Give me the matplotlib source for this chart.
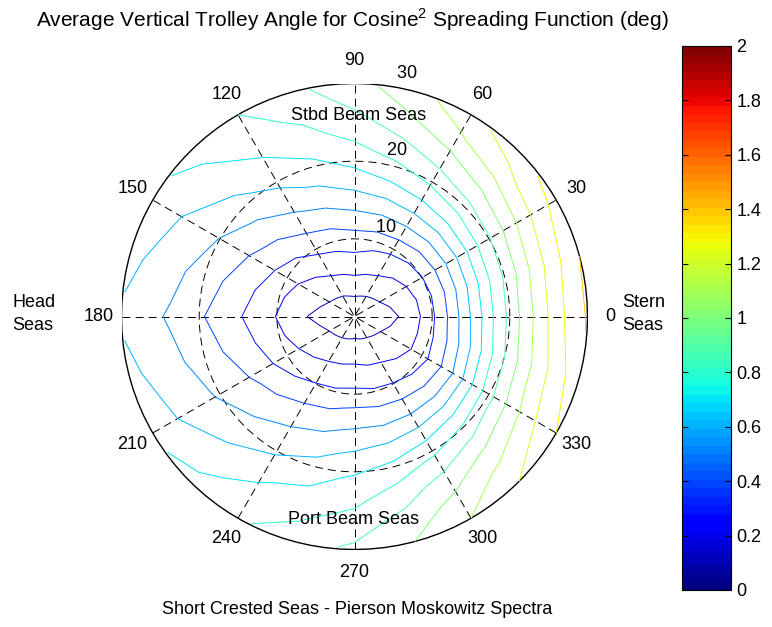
import numpy as np
import matplotlib
matplotlib.use("Agg")
import matplotlib.pyplot as plt
from matplotlib.colors import Normalize
from matplotlib.cm import ScalarMappable

plt.rcParams['font.family'] = ['Liberation Sans', 'DejaVu Sans']
plt.rcParams['mathtext.fontset'] = 'custom'
plt.rcParams['mathtext.rm'] = 'Liberation Sans'
plt.rcParams['lines.scale_dashes'] = False

# Wave heading (deg, 0 = stern seas) and wave period (s) grid
headings = np.arange(0, 360, 15)
periods = np.array([3, 6, 9, 12, 15, 18, 21, 24, 27, 30])
center_val = 0.05

# Average vertical trolley angle (deg), one row per heading, columns = periods
angle_table = [
    [0.075, 0.103, 0.220, 0.402, 0.605, 0.807, 0.986, 1.156, 1.298, 1.41],   # 0
    [0.080, 0.115, 0.228, 0.400, 0.600, 0.800, 0.970, 1.140, 1.280, 1.40],   # 15
    [0.085, 0.145, 0.241, 0.402, 0.588, 0.783, 0.944, 1.096, 1.239, 1.34],   # 30
    [0.092, 0.170, 0.262, 0.410, 0.585, 0.760, 0.905, 1.040, 1.170, 1.26],   # 45
    [0.100, 0.198, 0.288, 0.428, 0.583, 0.734, 0.864, 0.975, 1.089, 1.16],   # 60
    [0.105, 0.214, 0.307, 0.430, 0.568, 0.700, 0.810, 0.905, 0.995, 1.06],   # 75
    [0.108, 0.228, 0.324, 0.433, 0.554, 0.664, 0.758, 0.839, 0.908, 0.96],   # 90
    [0.105, 0.214, 0.310, 0.410, 0.520, 0.620, 0.700, 0.770, 0.830, 0.88],   # 105
    [0.099, 0.198, 0.292, 0.388, 0.485, 0.573, 0.645, 0.707, 0.754, 0.80],   # 120
    [0.092, 0.170, 0.250, 0.340, 0.430, 0.510, 0.580, 0.640, 0.690, 0.73],   # 135
    [0.086, 0.143, 0.215, 0.304, 0.384, 0.455, 0.518, 0.571, 0.622, 0.67],   # 150
    [0.080, 0.117, 0.190, 0.270, 0.343, 0.410, 0.470, 0.530, 0.580, 0.63],   # 165
    [0.075, 0.099, 0.172, 0.243, 0.311, 0.374, 0.433, 0.490, 0.536, 0.58],   # 180
    [0.080, 0.118, 0.192, 0.270, 0.345, 0.410, 0.470, 0.525, 0.575, 0.63],   # 195
    [0.085, 0.146, 0.217, 0.297, 0.386, 0.450, 0.505, 0.557, 0.613, 0.68],   # 210
    [0.090, 0.163, 0.243, 0.335, 0.425, 0.495, 0.560, 0.620, 0.675, 0.73],   # 225
    [0.095, 0.180, 0.269, 0.372, 0.465, 0.541, 0.610, 0.688, 0.739, 0.785],  # 240
    [0.100, 0.190, 0.280, 0.390, 0.490, 0.580, 0.660, 0.735, 0.795, 0.85],   # 255
    [0.103, 0.196, 0.291, 0.410, 0.520, 0.622, 0.718, 0.782, 0.853, 0.92],   # 270
    [0.100, 0.185, 0.275, 0.400, 0.520, 0.650, 0.765, 0.860, 0.940, 1.00],   # 285
    [0.096, 0.177, 0.263, 0.388, 0.523, 0.679, 0.817, 0.938, 1.030, 1.10],   # 300
    [0.090, 0.155, 0.237, 0.365, 0.523, 0.705, 0.870, 1.010, 1.120, 1.20],   # 315
    [0.084, 0.138, 0.215, 0.348, 0.523, 0.732, 0.922, 1.078, 1.203, 1.30],   # 330
    [0.078, 0.115, 0.222, 0.380, 0.570, 0.775, 0.960, 1.120, 1.255, 1.37],   # 345
]

levels = np.arange(0.1, 1.45, 0.1)
rmax = 30
cmap = plt.get_cmap('jet', 64)
norm = Normalize(0, 2)

# build the polar grid (close the loop at 360 deg)
Z = np.array(angle_table).T
Z = np.vstack([np.full(len(headings), center_val), Z])
Z = np.hstack([Z, Z[:, :1]])
th = np.deg2rad(np.append(headings, 360))
r = np.insert(periods, 0, 0)
TH, RR = np.meshgrid(th, r)
X = RR * np.cos(TH)
Y = RR * np.sin(TH)

fig = plt.figure(figsize=(7.72, 6.27), dpi=100)
ax = fig.add_axes([121.5 / 772, 77.5 / 627, 466 / 772, 466 / 627])
ax.set_xlim(-rmax, rmax)
ax.set_ylim(-rmax, rmax)
ax.axis('off')

# polar grid like matlab's polar()
dash = (0, (5.8, 3.6))
t = np.linspace(0, 2 * np.pi, 101)
for rr in (10, 20):
    ax.plot(rr * np.cos(t), rr * np.sin(t), color='k', ls=dash, lw=0.7)
ax.plot(rmax * np.cos(t), rmax * np.sin(t), color='k', lw=1.0)
for a in range(0, 180, 30):
    c, s = np.cos(np.deg2rad(a)), np.sin(np.deg2rad(a))
    ax.plot([-rmax * c, rmax * c], [-rmax * s, rmax * s], color='k',
            ls=dash, lw=0.7)

ax.contour(X, Y, Z, levels=levels, cmap=cmap, norm=norm, linewidths=0.7)

fs = 13
c82, s82 = np.cos(np.deg2rad(82)), np.sin(np.deg2rad(82))
for rr in (10, 20, 30):
    ax.text((rr + 0.5) * c82, (rr + 0.5) * s82, '  ' + str(rr), ha='left',
            va='bottom', fontsize=fs, clip_on=False)
rt = 1.1 * rmax
for a in range(0, 360, 30):
    ax.text(rt * np.cos(np.deg2rad(a)), rt * np.sin(np.deg2rad(a)), str(a),
            ha='center', va='center', fontsize=fs, clip_on=False)

fig.text(359 / 772, 1 - 116 / 627, 'Stbd Beam Seas', ha='center', va='center', fontsize=fs)
fig.text(353 / 772, 1 - 520 / 627, 'Port Beam Seas', ha='center', va='center', fontsize=fs)
fig.text(12 / 772, 1 - 314 / 627, 'Head\nSeas', ha='left', va='center', fontsize=fs,
         linespacing=1.45)
fig.text(622 / 772, 1 - 314 / 627, 'Stern\nSeas', ha='left', va='center', fontsize=fs,
         linespacing=1.45)
fig.text(352 / 772, 1 - 20 / 627,
         'Average Vertical Trolley Angle for Cosine$^2$ Spreading Function (deg)',
         ha='center', va='center', fontsize=15)
fig.text(357 / 772, 1 - 610 / 627, 'Short Crested Seas - Pierson Moskowitz Spectra',
         ha='center', va='center', fontsize=fs)

# colorbar
cax = fig.add_axes([682 / 772, 37 / 627, 49 / 772, 544 / 627])
sm = ScalarMappable(norm=norm, cmap=cmap)
cb = fig.colorbar(sm, cax=cax)
ticks = np.round(np.arange(0, 2.01, 0.2), 1)
cb.set_ticks(ticks)
cb.set_ticklabels([f'{v:g}' for v in ticks])
cax.tick_params(direction='in', left=True, right=True, length=4, width=0.8,
                labelsize=fs, pad=4)
cb.outline.set_linewidth(0.8)

fig.savefig('out.png', dpi=100)
